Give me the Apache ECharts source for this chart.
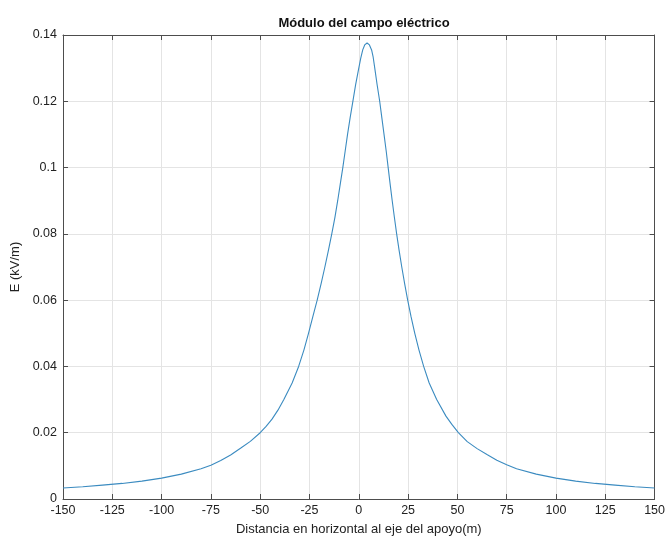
<!DOCTYPE html>
<html>
<head>
<meta charset="utf-8">
<script src="https://cdn.jsdelivr.net/npm/echarts@6/dist/echarts.min.js"></script>
<style>
  html, body { margin: 0; padding: 0; background: #fff; }
  #chart { width: 668px; height: 541px; }
</style>
</head>
<body>
<div id="chart"></div>
<script>
// distancia (m) y campo (kV/m)
var distX = [-150, -140, -130, -120, -110, -100, -90, -80, -75, -70, -65, -60, -55, -50, -47, -44, -41, -38, -33.8, -30.5, -27.8, -25.5, -23.3, -21.1, -19.1, -17.2, -15.4, -13.7, -12.1, -10.7, -9.4, -8.1, -6.9, -5.7, -4.4, -3, -1.6, 0, 1, 2, 3, 4.2, 5.4, 6.5, 7.3, 8.1, 9.3, 10.6, 11.7, 12.8, 13.9, 14.9, 15.9, 16.95, 18.05, 19.2, 20.45, 21.8, 23.25, 24.8, 26.5, 28.4, 30.5, 32.9, 35.7, 39.5, 44.2, 47.2, 50.5, 55, 60, 65, 70, 75, 80, 90, 100, 110, 120, 130, 140, 150];
var campoE = [0.0033, 0.0037, 0.0042, 0.0047, 0.0054, 0.0063, 0.0075, 0.0091, 0.0102, 0.0116, 0.0133, 0.0153, 0.0174, 0.0200, 0.0219, 0.0241, 0.0268, 0.0300, 0.0350, 0.0400, 0.0450, 0.0500, 0.0550, 0.0600, 0.0650, 0.0700, 0.0750, 0.0800, 0.0850, 0.0900, 0.0950, 0.1000, 0.1050, 0.1100, 0.1150, 0.1200, 0.1250, 0.1300, 0.1330, 0.1355, 0.1370, 0.1376, 0.1370, 0.1355, 0.1333, 0.1300, 0.1250, 0.1200, 0.1150, 0.1100, 0.1050, 0.1000, 0.0950, 0.0900, 0.0850, 0.0800, 0.0750, 0.0700, 0.0650, 0.0600, 0.0550, 0.0500, 0.0450, 0.0400, 0.0350, 0.0300, 0.0250, 0.0225, 0.0200, 0.0173, 0.0152, 0.0134, 0.0117, 0.0103, 0.0091, 0.0075, 0.0063, 0.0054, 0.0047, 0.0042, 0.0037, 0.0033];

var font = "'Liberation Sans', Arial, sans-serif";
var axisColor = "#4d4d4d";

var data = [];
for (var i = 0; i < distX.length; i++) {
  data.push([distX[i], campoE[i]]);
}

var myChart = echarts.init(document.getElementById("chart"));
var option = {
  animation: false,
  title: {
    text: "Módulo del campo eléctrico",
    left: 359,
    top: 12,
    textAlign: "center",
    textStyle: { fontFamily: font, fontSize: 13, fontWeight: "bold", color: "#111" },
  },
  grid: { left: 63, right: 13, top: 35, bottom: 40 },
  xAxis: [
    {
      type: "value",
      min: -150,
      max: 150,
      interval: 25,
      name: "Distancia en horizontal al eje del apoyo(m)",
      nameLocation: "middle",
      nameGap: 24,
      nameTextStyle: { fontFamily: font, fontSize: 13, color: "#222" },
      axisLine: { onZero: false, lineStyle: { color: axisColor, width: 1 } },
      axisTick: { inside: true, length: 5, lineStyle: { color: axisColor } },
      axisLabel: { fontFamily: font, fontSize: 12.5, color: "#222", margin: 5 },
      splitLine: { show: true, lineStyle: { color: "#e4e4e4", width: 1 } },
    },
    {
      type: "value",
      position: "top",
      min: -150,
      max: 150,
      interval: 25,
      axisLine: { show: true, onZero: false, lineStyle: { color: axisColor, width: 1 } },
      axisTick: { inside: true, length: 5, lineStyle: { color: axisColor } },
      axisLabel: { show: false },
      splitLine: { show: false },
    },
  ],
  yAxis: [
    {
      type: "value",
      position: "left",
      min: 0,
      max: 0.14,
      interval: 0.02,
      name: "E (kV/m)",
      nameLocation: "middle",
      nameGap: 34,
      nameTextStyle: { fontFamily: font, fontSize: 13, color: "#222" },
      axisLine: { show: true, onZero: false, lineStyle: { color: axisColor, width: 1 } },
      axisTick: { show: true, inside: true, length: 5, lineStyle: { color: axisColor } },
      axisLabel: { fontFamily: font, fontSize: 12.5, color: "#222", margin: 6 },
      splitLine: { show: true, lineStyle: { color: "#e4e4e4", width: 1 } },
    },
    {
      type: "value",
      position: "right",
      min: 0,
      max: 0.14,
      interval: 0.02,
      axisLine: { show: true, onZero: false, lineStyle: { color: axisColor, width: 1 } },
      axisTick: { show: true, inside: true, length: 5, lineStyle: { color: axisColor } },
      axisLabel: { show: false },
      splitLine: { show: false },
    },
  ],
  series: [
    {
      type: "line",
      data: data,
      showSymbol: false,
      smooth: false,
      lineStyle: { color: "#3b8bc0", width: 1.1 },
    },
  ],
};
myChart.setOption(option);
</script>
</body>
</html>
